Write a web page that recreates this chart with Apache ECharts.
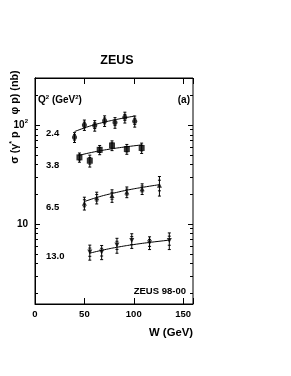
<!DOCTYPE html>
<html><head><meta charset="utf-8">
<script src="https://cdn.jsdelivr.net/npm/echarts@6/dist/echarts.min.js"></script>
<style>html,body{margin:0;padding:0;background:#fff}#c{width:291px;height:376px}</style>
</head><body><div id="c"></div>
<script>
// Q2 = 2.4 GeV^2 (circles)
var W24 = [40, 50, 60.5, 70.5, 81, 91, 101];
var S24 = [75, 100, 98.5, 110, 105.5, 119.5, 109];
var E24 = [8.5, 12, 12, 13.5, 13, 15, 14];
var FW24 = [40, 55, 70, 85, 101];
var F24 = [85.6, 96.9, 106.5, 114.9, 123];
// Q2 = 3.8 (squares)
var W38 = [45, 55.5, 65.5, 78, 93, 108];
var S38 = [47, 43.5, 56, 62, 57, 58.5];
var E38 = [5, 6, 6, 7, 6.5, 7];
var FW38 = [45, 60, 75, 90, 108];
var F38 = [49.4, 53.4, 56.8, 59.7, 62.8];
// Q2 = 6.5 (triangles up)
var W65 = [50, 62.5, 78, 93, 108.5, 126];
var S65 = [16.2, 18.4, 19.3, 21.0, 22.6, 24.6];
var E65 = [2.4, 2.5, 2.8, 2.6, 2.8, 5.5];
var FW65 = [50, 65, 80, 95, 110, 126];
var F65 = [16.8, 18.8, 20.5, 22.1, 23.5, 24.9];
// Q2 = 13.0 (triangles down)
var W130 = [55.5, 67.5, 83, 98, 116, 136];
var S130 = [5.2, 5.2, 6.1, 6.8, 6.45, 6.8];
var E130 = [0.9, 0.85, 1.05, 1.15, 0.95, 1.3];
var FW130 = [55.5, 70, 85, 100, 118, 136];
var F130 = [5.06, 5.47, 5.85, 6.18, 6.53, 6.85];

var Q2LABELS = ['2.4', '3.8', '6.5', '13.0'];
var X_TICKS = [0, 50, 100, 150];
var Y_MAJOR = [10, 100];
var Y_MINOR = [2, 3, 4, 5, 6, 7, 8, 9, 20, 30, 40, 50, 60, 70, 80, 90, 200];

var X_MIN = 0, X_MAX = 160, Y_MIN = 1.55, Y_MAX = 298;
var FONT = 'Liberation Sans';

function zip(a, b, c) { return a.map(function (v, i) { return c ? [v, b[i], c[i]] : [v, b[i]]; }); }

function errItem(params, api) {
  var x = api.value(0), y = api.value(1), e = api.value(2);
  var t = api.coord([x, y + e]), b = api.coord([x, y - e]);
  var ti = api.coord([x, y + e * 0.55]), bi = api.coord([x, y - e * 0.55]);
  var c = 1.5, st = { stroke: '#000', lineWidth: 1 };
  function h(p) { return { type: 'line', shape: { x1: p[0] - c, y1: p[1], x2: p[0] + c, y2: p[1] }, style: st }; }
  return { type: 'group', children: [
    { type: 'line', shape: { x1: t[0], y1: t[1], x2: b[0], y2: b[1] }, style: st },
    h(t), h(b), h(ti), h(bi)
  ] };
}

function tickItem(params, api) {
  var v = api.value(1), major = api.value(2);
  var l = api.coord([X_MIN, v]), r = api.coord([X_MAX, v]);
  var len = major ? 5 : 3, st = { stroke: '#000', lineWidth: 1 };
  var y = Math.round(l[1]) + 0.5;
  return { type: 'group', children: [
    { type: 'line', shape: { x1: l[0], y1: y, x2: l[0] + len, y2: y }, style: st },
    { type: 'line', shape: { x1: r[0], y1: y, x2: r[0] - len, y2: y }, style: st }
  ] };
}

var tickData = Y_MAJOR.map(function (v) { return [0, v, 1]; }).concat(Y_MINOR.map(function (v) { return [0, v, 0]; }));

function pts(name, W, S, sym, size, rot) {
  return { type: 'scatter', name: name, data: zip(W, S), symbol: sym, symbolSize: size, symbolRotate: rot || 0,
    itemStyle: { color: '#000' }, z: 5, silent: true };
}
function errs(W, S, E) {
  return { type: 'custom', data: zip(W, S, E), renderItem: errItem, z: 4, silent: true };
}
function fit(W, F) {
  return { type: 'line', data: zip(W, F), smooth: true, showSymbol: false, symbol: 'none',
    lineStyle: { color: '#000', width: 1 }, z: 3, silent: true };
}

var txt = { fontFamily: FONT, fontWeight: 'bold', fill: '#000' };
function label(t, x, y, size, align) {
  return { type: 'text', x: x, y: y, style: Object.assign({ text: t, fontSize: size, textAlign: align || 'left', textVerticalAlign: 'middle' }, txt) };
}

var chart = echarts.init(document.getElementById('c'), null, { renderer: 'canvas' });
chart.setOption({
  animation: false,
  backgroundColor: '#fff',
  grid: { left: 35, right: 98, top: 78, bottom: 72, show: true, borderColor: '#000', borderWidth: 1 },
  xAxis: [
    { type: 'value', min: X_MIN, max: X_MAX, interval: 50, position: 'bottom',
      axisLine: { show: true, lineStyle: { color: '#000', width: 1 } },
      axisTick: { show: true, inside: true, length: 6, lineStyle: { color: '#000' } },
      splitLine: { show: false },
      axisLabel: { margin: 5, fontFamily: FONT, fontWeight: 'bold', fontSize: 9.5, color: '#000',
        formatter: function (v) { return X_TICKS.indexOf(v) >= 0 ? String(v) : ''; } } },
    { type: 'value', min: X_MIN, max: X_MAX, interval: 50, position: 'top',
      axisLine: { show: true, lineStyle: { color: '#000', width: 1 } },
      axisTick: { show: true, inside: true, length: 6, lineStyle: { color: '#000' } },
      splitLine: { show: false }, axisLabel: { show: false } }
  ],
  yAxis: [
    { type: 'log', logBase: 10, min: Y_MIN, max: Y_MAX, position: 'left',
      axisLine: { show: true, lineStyle: { color: '#000', width: 1 } },
      axisTick: { show: false }, splitLine: { show: false },
      axisLabel: { margin: 7, color: '#000',
        formatter: function (v) {
          var r = Math.round(v);
          if (r === 100) return '{b|10}{s|2}';
          if (r === 10) return '{b|10}';
          return '';
        },
        rich: {
          b: { fontFamily: FONT, fontWeight: 'bold', fontSize: 10, color: '#000' },
          s: { fontFamily: FONT, fontWeight: 'bold', fontSize: 6, color: '#000', verticalAlign: 'top', padding: [0, 0, 7, 0] }
        } } },
    { type: 'log', logBase: 10, min: Y_MIN, max: Y_MAX, position: 'right',
      axisLine: { show: true, lineStyle: { color: '#000', width: 1 } },
      axisTick: { show: false }, splitLine: { show: false }, axisLabel: { show: false } }
  ],
  series: [
    { type: 'custom', data: tickData, renderItem: tickItem, z: 2, silent: true },
    fit(FW24, F24), fit(FW38, F38), fit(FW65, F65), fit(FW130, F130),
    errs(W24, S24, E24), errs(W38, S38, E38), errs(W65, S65, E65), errs(W130, S130, E130),
    pts('2.4', W24, S24, 'circle', 5),
    pts('3.8', W38, S38, 'rect', 6),
    pts('6.5', W65, S65, 'triangle', 5),
    pts('13.0', W130, S130, 'triangle', 5, 180)
  ],
  graphic: [
    label('ZEUS', 117, 61, 12.5, 'center'),
    { type: 'text', x: 38, y: 100, style: Object.assign({
        text: '{b|Q}{s|2}{b| (GeV}{s|2}{b|)}', textVerticalAlign: 'middle',
        rich: { b: { fontFamily: FONT, fontWeight: 'bold', fontSize: 10 }, s: { fontFamily: FONT, fontWeight: 'bold', fontSize: 6, verticalAlign: 'top', padding: [0, 0, 6, 0] } } }, txt) },
    label('(a)', 190, 100, 10, 'right'),
    label(Q2LABELS[0], 46, 133, 9.5),
    label(Q2LABELS[1], 46, 165, 9.5),
    label(Q2LABELS[2], 46, 207, 9.5),
    label(Q2LABELS[3], 46, 256, 9.5),
    label('ZEUS 98-00', 186, 291, 9.5, 'right'),
    label('W (GeV)', 193, 333, 11.3, 'right'),
    { type: 'text', x: 15, y: 117, rotation: Math.PI / 2, style: Object.assign({
        text: '{t|σ (γ}{s|*}{t| p → φ p) (nb)}', textAlign: 'center', textVerticalAlign: 'middle',
        rich: { t: { fontFamily: FONT, fontWeight: 'bold', fontSize: 10.8 }, s: { fontFamily: FONT, fontWeight: 'bold', fontSize: 7, verticalAlign: 'top', padding: [0, 0, 5, 0] } } }, txt) }
  ]
});
</script></body></html>
